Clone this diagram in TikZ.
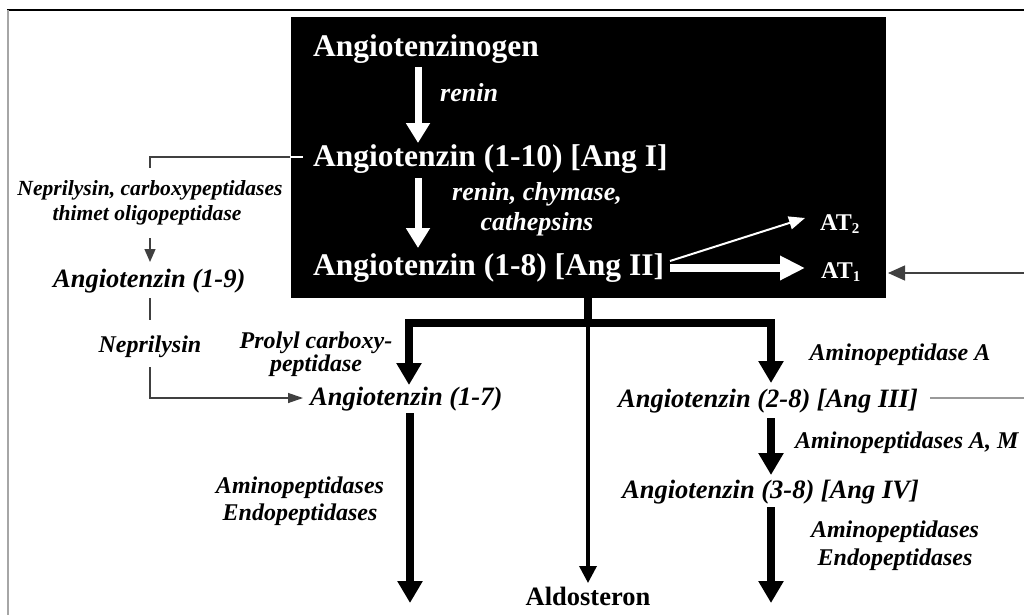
\documentclass[tikz,border=0pt]{standalone}
\usepackage{fontspec}
\setmainfont{Liberation Serif}
\usetikzlibrary{arrows.meta}
\newcommand{\lowidx}[1]{{\fontsize{15}{15}\selectfont\raisebox{-3pt}{#1}}}
\begin{document}
\begin{tikzpicture}[x=1pt,y=-1pt,
  big/.style={font=\fontsize{31.5}{36}\selectfont\bfseries, text=white, inner sep=0pt},
  enz/.style={font=\fontsize{26}{30}\selectfont\bfseries\itshape, text=white, inner sep=0pt},
  atl/.style={font=\fontsize{24}{28}\selectfont\bfseries, text=white, inner sep=0pt},
  pep/.style={font=\fontsize{26.5}{30}\selectfont\bfseries\itshape, inner sep=0pt},
  lab/.style={font=\fontsize{24}{28}\selectfont\bfseries\itshape, inner sep=0pt},
  smalllab/.style={font=\fontsize{21.6}{25}\selectfont\bfseries\itshape, inner sep=0pt},
  hormone/.style={font=\fontsize{26.5}{30}\selectfont\bfseries, inner sep=0pt},
  whitethick/.style={draw=white, line width=7pt, -{Triangle[width=23pt,length=20pt]}},
  whitethin/.style={draw=white, line width=2pt, -{Triangle[width=13pt,length=16pt]}},
  blackthick/.style={draw=black, line width=8pt, line join=miter, -{Triangle[width=24pt,length=22pt]}},
  thinline/.style={draw=black!75, line width=1.3pt},
  thinarrow/.style={thinline, -{Triangle[width=11pt,length=13pt]}}
]
\useasboundingbox (0,0) rectangle (1024,615);
\fill[white] (0,0) rectangle (1024,615);

% frame
\draw[black, line width=1.5pt] (7,10) -- (1024,10);
\draw[black!35, line width=2pt] (8,10) -- (8,615);

% black panel of the classical cascade
\fill[black] (291,17) rectangle (886,298);

\node[big, anchor=base west] (ang0) at (313,57) {Angiotenzinogen};
\node[big, anchor=base west] (ang1) at (313,166) {Angiotenzin (1-10) [Ang I]};
\node[big, anchor=base west] (ang2) at (313,275) {Angiotenzin (1-8) [Ang II]};
\node[enz, anchor=base west] (renin) at (440,102) {renin};
\node[enz, anchor=base] (chym) at (537,200) {renin, chymase,};
\node[enz, anchor=base] (cath) at (537,230) {cathepsins};
\node[atl, anchor=base west] (at2) at (820,230) {AT\lowidx{2}};
\node[atl, anchor=base west] (at1) at (821,278) {AT\lowidx{1}};

\coordinate (a0s) at (418,67);   \coordinate (a0e) at (418,143);
\coordinate (a1s) at (418,178);  \coordinate (a1e) at (418,248);
\coordinate (a2s) at (670,268);  \coordinate (at1in) at (805,268);
\coordinate (a2t) at (670,261);  \coordinate (at2in) at (805,218);
\draw[whitethick] (a0s) -- (a0e);
\draw[whitethick] (a1s) -- (a1e);
\draw[draw=white, line width=8pt, -{Triangle[width=23pt,length=25pt]}] (a2s) -- (at1in);
\draw[whitethin] (a2t) -- (at2in);

% left branch: Ang I -> Ang (1-9) -> Ang (1-7)
\node[smalllab, anchor=base] (nepc) at (150,195) {Neprilysin, carboxypeptidases};
\node[smalllab, anchor=base] (thim) at (147,220) {thimet oligopeptidase};
\node[pep, anchor=base west] (ang9) at (53,287) {Angiotenzin (1-9)};
\node[lab, anchor=base] (nep) at (150,352) {Neprilysin};
\node[lab, font=\fontsize{24}{21}\selectfont\bfseries\itshape, align=center, anchor=center]
  (pro) at (316,354) {Prolyl carboxy-\\peptidase};
\node[pep, anchor=base west] (ang7) at (310,405) {Angiotenzin (1-7)};

\coordinate (bI) at (290,157);
\coordinate (bIin) at (303,157);
\coordinate (lc) at (150,157);
\coordinate (lcd) at (150,168);
\coordinate (n9s) at (150,238);  \coordinate (n9e) at (150,262);
\coordinate (n7s) at (150,298);  \coordinate (n7e) at (150,320);
\coordinate (n8s) at (150,367);  \coordinate (ang7in) at (303,398);
\draw[white, line width=1.3pt] (bI) -- (bIin);
\draw[thinline] (bI) -- (lc) -- (lcd);
\draw[thinarrow] (n9s) -- (n9e);
\draw[thinline] (n7s) -- (n7e);
\draw[thinline, -{Triangle[width=10pt,length=15pt]}] (n8s) |- (ang7in);

% lower branches from Ang II
\coordinate (stem0) at (588,298);
\coordinate (bar) at (588,323);
\coordinate (ang7top) at (409,385);
\coordinate (ang3top) at (771,383);
\coordinate (aldtop) at (588,583);
\draw[line width=8pt] (stem0) -- (588,327);
\draw[blackthick] (bar) -| (ang7top);
\draw[blackthick] (bar) -| (ang3top);
\draw[line width=3.5pt, -{Triangle[width=17pt,length=17pt]}] (bar) -- (aldtop);
\node[hormone, anchor=base] (ald) at (588,605) {Aldosteron};

\node[lab, anchor=base] (am7a) at (300,493) {Aminopeptidases};
\node[lab, anchor=base] (am7b) at (300,520) {Endopeptidases};
\coordinate (d7s) at (410,413); \coordinate (d7e) at (410,603);
\draw[blackthick] (d7s) -- (d7e);

\node[lab, anchor=base] (apa) at (900,360) {Aminopeptidase A};
\node[pep, anchor=base west] (ang3) at (618,407) {Angiotenzin (2-8) [Ang III]};
\node[lab, anchor=base west] (apam) at (795,448) {Aminopeptidases A, M};
\node[pep, anchor=base west] (ang4) at (622,498) {Angiotenzin (3-8) [Ang IV]};
\node[lab, anchor=base] (am4a) at (895,537) {Aminopeptidases};
\node[lab, anchor=base] (am4b) at (895,565) {Endopeptidases};
\coordinate (d3s) at (771,418); \coordinate (d3e) at (771,475);
\coordinate (d4s) at (771,507); \coordinate (d4e) at (771,603);
\draw[blackthick] (d3s) -- (d3e);
\draw[blackthick] (d4s) -- (d4e);

% links leaving at the right edge
\coordinate (redge1) at (1024,273);
\coordinate (at1out) at (888,273);
\coordinate (ang3out) at (930,398);
\coordinate (redge2) at (1024,398);
\draw[thinline, -{Triangle[width=15pt,length=17pt]}] (redge1) -- (at1out);
\draw[draw=black!40, line width=1.3pt] (ang3out) -- (redge2);
\end{tikzpicture}
\end{document}
